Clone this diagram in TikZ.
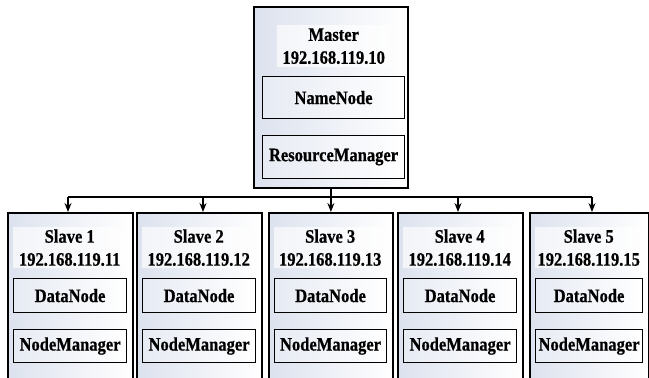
\documentclass[tikz,border=0pt]{standalone}
\usepackage{fontspec}
\setmainfont{Liberation Serif}[FakeStretch=0.87,BoldFeatures={FakeBold=0.7}]
\usetikzlibrary{arrows.meta}
\definecolor{gB}{RGB}{220,226,238}
\begin{document}
\begin{tikzpicture}[x=1pt,y=-1pt,
  outer/.style={draw, line width=1.8pt, left color=gB, right color=white, anchor=north west, inner sep=0pt},
  inner/.style={draw, line width=1.1pt, left color=gB!70, right color=white, anchor=north west, inner sep=0pt,
    font=\fontsize{19}{21}\selectfont\bfseries},
  titlebg/.style={fill=white, fill opacity=0.65, text opacity=1, anchor=north west, inner sep=0pt, align=center,
    font=\fontsize{19}{23}\selectfont\bfseries},
  link/.style={line width=1.4pt},
  arr/.style={line width=1.4pt, -{Stealth[length=9pt,width=7pt]}}]
\useasboundingbox (0,0) rectangle (649,378);
\clip (0,0) rectangle (649,378);
\fill[white] (0,0) rectangle (649,378);
% master
\node[outer, minimum width=154pt, minimum height=181pt] (m) at (253,6) {};
\node[titlebg, minimum width=113pt, minimum height=42pt] (mt) at (277,25) {Master\\192.168.119.10};
\node[inner, minimum width=142pt, minimum height=42pt] (nn) at (262,76) {NameNode};
\node[inner, minimum width=142pt, minimum height=43pt] (rm) at (262,135) {ResourceManager};
% slaves
\foreach \i/\l/\w/\a in {1/7/125/68, 2/136/125/203, 3/268/124/330, 4/397/125/458, 5/529/119/592} {
  \pgfmathsetmacro\iw{\w-12}
  \node[outer, minimum width=\w pt, minimum height=185pt] (s\i) at (\l,212) {};
  \node[titlebg, minimum width=\iw pt, minimum height=41pt] (t\i) at ({\l+6},227) {Slave \i\\192.168.119.1\i};
  \node[inner, minimum width=\iw pt, minimum height=34pt] (d\i) at ({\l+6},278) {DataNode};
  \node[inner, minimum width=\iw pt, minimum height=33pt] (n\i) at ({\l+6},329) {NodeManager};
  \coordinate (c\i) at (\a,197);
}
\draw[link] (c1) -- (c5);
\foreach \i in {1,2,4,5} {
  \draw[arr] (c\i) -- (c\i |- s\i.north);
}
\draw[arr] (m.south) -- (m.south |- s3.north);
\end{tikzpicture}
\end{document}
